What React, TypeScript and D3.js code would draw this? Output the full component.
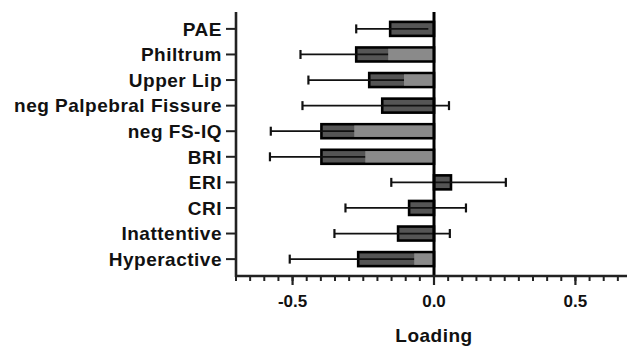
import React from 'react'
import * as d3 from 'd3'

const categories = ['PAE', 'Philtrum', 'Upper Lip', 'neg Palpebral Fissure', 'neg FS-IQ', 'BRI', 'ERI', 'CRI', 'Inattentive', 'Hyperactive']
const loading = [-0.155, -0.275, -0.229, -0.183, -0.398, -0.398, 0.06, -0.088, -0.127, -0.268]
const lower = [-0.275, -0.472, -0.444, -0.465, -0.577, -0.58, -0.151, -0.313, -0.352, -0.51]
const upper = [-0.02, -0.078, -0.014, 0.053, -0.219, -0.216, 0.254, 0.113, 0.056, -0.026]
const inner = [0, -0.162, -0.106, 0, -0.282, -0.243, 0, 0, 0, -0.07]
const majorTicks = [-0.5, 0, 0.5]
const tickLabels = ['-0.5', '0.0', '0.5']

const W = 627
const H = 348
const font = '"Liberation Sans", Arial, Helvetica, sans-serif'

const App = () => {
  const x = d3.scaleLinear().domain([-0.7, 0.7]).range([236, 632])
  const y = d3.scaleBand<string>().domain(categories).range([12, 276]).paddingInner(0).paddingOuter(0.16)
  const minorTicks = d3.range(-14, 15).map(i => i * 0.05)
  const barH = 14
  const x0 = x(0)

  return (
    <svg width={W} height={H} style={{ position: 'absolute', left: 0, top: 0, background: '#fff' }}>
      {/* bars */}
      {categories.map((c, i) => {
        const cy = (y(c) as number) + y.bandwidth() / 2
        const v = loading[i]
        const bx = Math.min(x(v), x0)
        const bw = Math.abs(x(v) - x0)
        const iv = inner[i]
        const ix = Math.min(x(iv), x0)
        const iw = Math.abs(x(iv) - x0)
        // upper whisker only shows when it pokes out past the zero line
        const upperVisible = v < 0 ? upper[i] > 0 : true
        return (
          <g key={c}>
            <rect x={bx} y={cy - barH / 2} width={bw} height={barH} fill="#555" stroke="#000" strokeWidth={2.6} />
            <line x1={x(lower[i])} x2={x(upper[i])} y1={cy} y2={cy} stroke="#111" strokeWidth={1.8} />
            {iw > 0 && (
              <rect x={ix} y={cy - barH / 2 + 1.3} width={Math.max(0, iw - 1.3)} height={barH - 2.6} fill="#8a8a8a" />
            )}
            <line x1={x(lower[i])} x2={x(lower[i])} y1={cy - 4.5} y2={cy + 4.5} stroke="#111" strokeWidth={2.2} />
            {upperVisible && (
              <line x1={x(upper[i])} x2={x(upper[i])} y1={cy - 4.5} y2={cy + 4.5} stroke="#111" strokeWidth={2.2} />
            )}
          </g>
        )
      })}

      {/* zero line */}
      <line x1={x0} x2={x0} y1={12} y2={276} stroke="#000" strokeWidth={3} />

      {/* y axis */}
      <line x1={236} x2={236} y1={12} y2={277} stroke="#222" strokeWidth={2.6} />
      {categories.map(c => {
        const cy = (y(c) as number) + y.bandwidth() / 2
        return (
          <g key={'t' + c}>
            <line x1={226} x2={236} y1={cy} y2={cy} stroke="#222" strokeWidth={2} />
            <text x={222} y={cy} dy="0.36em" textAnchor="end" fontFamily={font} fontWeight="bold" fontSize={19} letterSpacing={0.5} fill="#111">
              {c}
            </text>
          </g>
        )
      })}

      {/* x axis */}
      <line x1={235} x2={W} y1={276} y2={276} stroke="#222" strokeWidth={2.6} />
      {minorTicks.map(t => (
        <line key={'m' + t} x1={x(t)} x2={x(t)} y1={276} y2={281} stroke="#222" strokeWidth={2} />
      ))}
      {majorTicks.map((t, i) => (
        <g key={'M' + t}>
          <line x1={x(t)} x2={x(t)} y1={276} y2={285} stroke="#222" strokeWidth={2.2} />
          <text x={x(t)} y={307} textAnchor="middle" fontFamily={font} fontWeight="bold" fontSize={17} fill="#111">
            {tickLabels[i]}
          </text>
        </g>
      ))}
      <text x={x0} y={342} textAnchor="middle" fontFamily={font} fontWeight="bold" fontSize={19} letterSpacing={0.5} fill="#111">
        Loading
      </text>
    </svg>
  )
}

export default App
